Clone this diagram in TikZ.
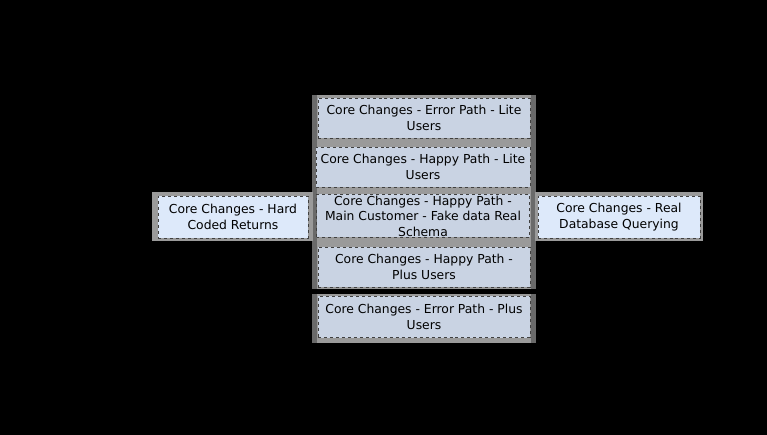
\documentclass[tikz,border=0pt]{standalone}
\usepackage{fontspec}
\setmainfont{DejaVu Sans}
\begin{document}
\begin{tikzpicture}[x=1bp,y=-1bp,
  card/.style={draw=black!75, dashed, line width=0.6bp, align=center,
    font=\fontsize{12.4}{15.5}\selectfont, inner sep=0pt},
  corecard/.style={card, fill=coreFill},
  sidecard/.style={card, fill=sideFill},
  halo/.style={fill=haloGray, draw=none}]
\definecolor{coreFill}{HTML}{C9D3E3}
\definecolor{sideFill}{HTML}{DDE9FA}
\definecolor{haloGray}{HTML}{9A9A9A}
\definecolor{haloDark}{HTML}{6A6A6A}
% canvas
\fill[black] (0,0) rectangle (767,435);
% grey backing behind the cards
\fill[halo] (312,95) rectangle (536,343);
\fill[haloDark] (312,95) rectangle (317,343);
\fill[haloDark] (531,95) rectangle (536,343);
\fill[black] (312,289) rectangle (536,294);
\fill[halo] (152,192) rectangle (313,241);
\fill[halo] (535,192) rectangle (703,241);
% central column
\node[corecard, minimum width=212bp, minimum height=40bp] (errlite) at (424,118) {Core Changes - Error Path - Lite\\Users};
\node[corecard, minimum width=214bp, minimum height=40bp] (haplite) at (423,167) {Core Changes - Happy Path - Lite\\Users};
\node[corecard, minimum width=213bp, minimum height=43bp] (main) at (423,216) {Core Changes - Happy Path -\\Main Customer - Fake data Real\\Schema};
\node[corecard, minimum width=212bp, minimum height=40bp] (happlus) at (424,267) {Core Changes - Happy Path -\\Plus Users};
\node[corecard, minimum width=212bp, minimum height=41bp] (errplus) at (424,317) {Core Changes - Error Path - Plus\\Users};
% side cards
\node[sidecard, minimum width=150bp, minimum height=42bp] (hard) at (233,217) {Core Changes - Hard\\Coded Returns};
\node[sidecard, minimum width=162bp, minimum height=42bp] (realdb) at (619,217) {Core Changes - Real\\Database Querying};
\end{tikzpicture}
\end{document}
